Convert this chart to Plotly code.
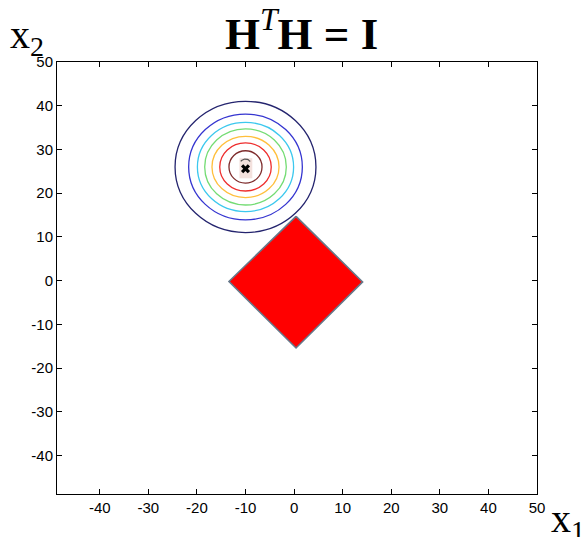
import numpy as np
import plotly.graph_objects as go

# ---------------- data ----------------
x_tickvals = [-40, -30, -20, -10, 0, 10, 20, 30, 40, 50]
y_tickvals = [-40, -30, -20, -10, 0, 10, 20, 30, 40, 50]
axis_range = [-48.8, 50]

# likelihood contours (centre and radii, outer -> inner)
contour_center = (-10.0, 26.0)
contour_rx = [14.5, 11.7, 9.9, 8.4, 6.9, 5.3, 3.4]
contour_ry = [15.0, 12.1, 10.2, 8.7, 7.0, 5.5, 3.7]
contour_colors = ["#24246e", "#3535d0", "#3cc8ee", "#74dc74", "#ffbf3c", "#ee2e2e", "#7e2c2c"]

# constraint region (diamond)
diamond_x = [0.4, 14.1, 0.4, -13.4, 0.4]
diamond_y = [14.7, -0.3, -15.4, -0.2, 14.7]

# maximum-likelihood point
ml_x = [-10.0]
ml_y = [25.6]
# ---------------------------------------

W, H = 583, 537
L, R, T, B = 57, 46, 62, 43
PW, PH = W - L - R, H - T - B


def px(xp):
    return (xp - L) / PW


def py(yp):
    return (H - B - yp) / PH


fig = go.Figure()

# small pinkish core around the maximum
fig.add_shape(type="rect", xref="x", yref="y",
              x0=ml_x[0] - 1.25, x1=ml_x[0] + 1.4,
              y0=ml_y[0] - 2.2, y1=ml_y[0] + 2.4,
              fillcolor="#f3e1dd", line=dict(width=0), layer="below")

cx, cy = contour_center
for rx, ry, col in zip(contour_rx, contour_ry, contour_colors):
    fig.add_shape(type="circle", xref="x", yref="y",
                  x0=cx - rx, x1=cx + rx, y0=cy - ry, y1=cy + ry,
                  line=dict(color=col, width=1.3))

# innermost contour arc (partly hidden)
th = np.linspace(np.pi * 0.2, np.pi * 0.8, 20)
fig.add_trace(go.Scatter(x=ml_x[0] + 1.2 * np.cos(th), y=ml_y[0] + 0.9 + 1.3 * np.sin(th),
                         mode="lines", line=dict(color="#555555", width=1.2),
                         hoverinfo="skip", showlegend=False))

fig.add_trace(go.Scatter(x=diamond_x, y=diamond_y, mode="lines", fill="toself",
                         fillcolor="#ff0000", line=dict(color="#66788a", width=1.6),
                         showlegend=False))

fig.add_trace(go.Scatter(x=ml_x, y=ml_y, mode="markers",
                         marker=dict(symbol="x", size=8, color="black", line=dict(width=0)),
                         showlegend=False))

axis_common = dict(range=axis_range, showgrid=False, zeroline=False, automargin=False,
                   showline=True, linecolor="black", linewidth=1, mirror="ticks",
                   ticks="inside", ticklen=5, tickcolor="black", tickwidth=1,
                   tickfont=dict(family="Liberation Sans", size=15, color="black"))

fig.update_layout(
    width=W, height=H,
    margin=dict(l=L, r=R, t=T, b=B, autoexpand=False),
    paper_bgcolor="white", plot_bgcolor="white",
    showlegend=False,
    xaxis=dict(tickvals=x_tickvals, ticktext=[str(v) for v in x_tickvals], **axis_common),
    yaxis=dict(tickvals=y_tickvals, ticktext=[str(v) for v in y_tickvals], **axis_common),
)

fig.add_annotation(xref="paper", yref="paper", x=px(301.5), y=py(31),
                   text="<b>H</b><sup><i>T</i></sup><b>H = I</b>",
                   showarrow=False, xanchor="center", yanchor="middle",
                   font=dict(family="Liberation Serif", size=45, color="black"))
fig.add_annotation(xref="paper", yref="paper", x=px(8), y=py(37),
                   text="x<sub>2</sub>",
                   showarrow=False, xanchor="left", yanchor="middle",
                   font=dict(family="Liberation Serif", size=40, color="black"))
fig.add_annotation(xref="paper", yref="paper", x=px(549), y=py(521),
                   text="x<sub>1</sub>",
                   showarrow=False, xanchor="left", yanchor="middle",
                   font=dict(family="Liberation Serif", size=40, color="black"))

fig.write_html("out.html", config={"displayModeBar": False},
               post_script="document.body.style.margin='0';document.body.style.overflow='hidden';")
